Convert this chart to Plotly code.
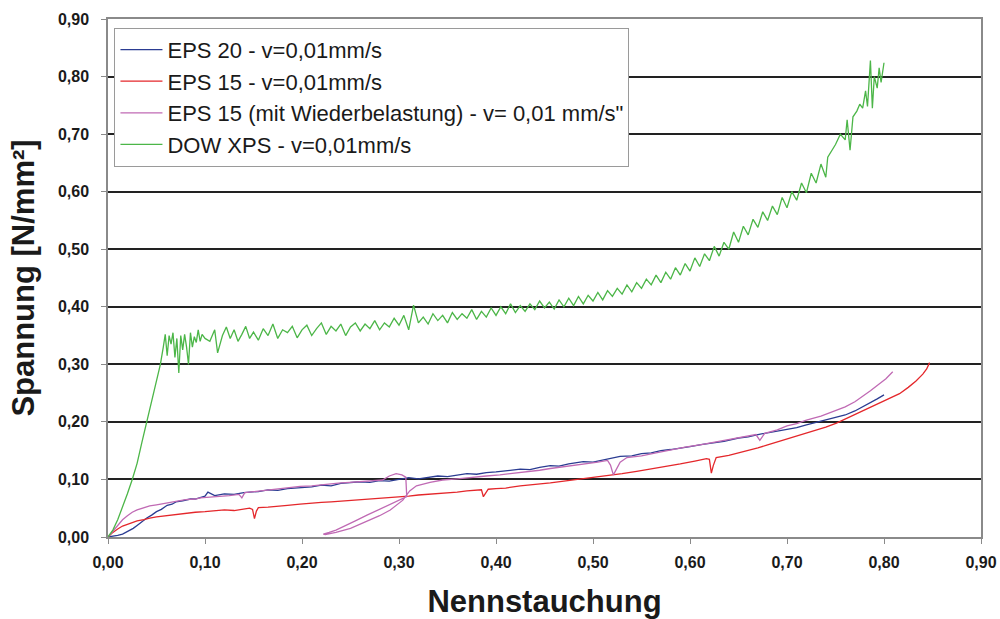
import plotly.graph_objects as go

# ---- data (x = Nennstauchung, y = Spannung [N/mm²]) ----
eps20 = [(0.000, 0.000), (0.005, 0.001), (0.010, 0.003), (0.015, 0.005), (0.020, 0.009), (0.026, 0.015),
         (0.030, 0.020), (0.035, 0.027), (0.040, 0.033), (0.045, 0.038), (0.050, 0.044), (0.055, 0.048),
         (0.061, 0.055), (0.066, 0.057), (0.070, 0.061), (0.077, 0.063), (0.085, 0.066), (0.090, 0.066),
         (0.095, 0.069), (0.100, 0.071), (0.103, 0.078), (0.110, 0.072), (0.120, 0.075), (0.130, 0.074),
         (0.140, 0.077), (0.146, 0.078), (0.155, 0.079), (0.165, 0.082), (0.175, 0.081), (0.185, 0.084),
         (0.198, 0.086), (0.210, 0.087), (0.220, 0.090), (0.230, 0.089), (0.240, 0.093), (0.249, 0.094),
         (0.260, 0.096), (0.270, 0.095), (0.280, 0.098), (0.290, 0.097), (0.301, 0.100), (0.310, 0.103),
         (0.320, 0.101), (0.330, 0.104), (0.340, 0.106), (0.350, 0.105), (0.360, 0.108), (0.370, 0.110),
         (0.380, 0.109), (0.390, 0.112), (0.400, 0.113), (0.410, 0.115), (0.425, 0.118), (0.435, 0.117),
         (0.445, 0.121), (0.456, 0.124), (0.465, 0.123), (0.475, 0.127), (0.490, 0.131), (0.500, 0.130),
         (0.510, 0.134), (0.520, 0.137), (0.528, 0.140), (0.540, 0.141), (0.550, 0.145), (0.560, 0.146),
         (0.570, 0.150), (0.580, 0.152), (0.590, 0.154), (0.600, 0.157), (0.613, 0.161), (0.625, 0.163),
         (0.635, 0.166), (0.650, 0.172), (0.660, 0.174), (0.670, 0.178), (0.680, 0.181), (0.690, 0.184),
         (0.700, 0.188), (0.710, 0.190), (0.720, 0.195), (0.730, 0.199), (0.740, 0.203), (0.751, 0.208),
         (0.760, 0.212), (0.770, 0.219), (0.778, 0.226), (0.786, 0.233), (0.793, 0.240), (0.800, 0.247)]

eps15 = [(0.000, 0.000), (0.005, 0.008), (0.010, 0.014), (0.015, 0.019), (0.020, 0.022), (0.025, 0.025),
         (0.030, 0.028), (0.037, 0.030), (0.043, 0.033), (0.050, 0.035), (0.060, 0.037), (0.070, 0.040),
         (0.080, 0.041), (0.090, 0.043), (0.100, 0.044), (0.110, 0.045), (0.120, 0.047), (0.130, 0.046),
         (0.140, 0.049), (0.146, 0.050), (0.149, 0.048), (0.151, 0.032), (0.153, 0.045), (0.155, 0.051),
         (0.165, 0.052), (0.175, 0.054), (0.185, 0.055), (0.198, 0.057), (0.210, 0.058), (0.220, 0.060),
         (0.230, 0.061), (0.246, 0.063), (0.260, 0.064), (0.270, 0.066), (0.280, 0.067), (0.290, 0.068),
         (0.301, 0.070), (0.310, 0.071), (0.320, 0.073), (0.330, 0.074), (0.340, 0.075), (0.350, 0.077),
         (0.360, 0.078), (0.370, 0.080), (0.380, 0.081), (0.385, 0.082), (0.387, 0.070), (0.389, 0.076),
         (0.392, 0.083), (0.400, 0.084), (0.410, 0.085), (0.425, 0.089), (0.440, 0.091), (0.456, 0.094),
         (0.470, 0.097), (0.480, 0.099), (0.494, 0.102), (0.505, 0.104), (0.515, 0.107), (0.530, 0.110),
         (0.545, 0.114), (0.560, 0.118), (0.575, 0.123), (0.590, 0.127), (0.605, 0.132), (0.617, 0.136),
         (0.620, 0.135), (0.622, 0.111), (0.624, 0.124), (0.627, 0.138), (0.640, 0.142), (0.650, 0.146),
         (0.660, 0.151), (0.670, 0.155), (0.680, 0.160), (0.690, 0.165), (0.700, 0.171), (0.710, 0.176),
         (0.720, 0.181), (0.730, 0.186), (0.740, 0.191), (0.751, 0.198), (0.760, 0.205), (0.770, 0.212),
         (0.778, 0.218), (0.786, 0.225), (0.795, 0.232), (0.805, 0.240), (0.816, 0.249), (0.825, 0.260),
         (0.833, 0.271), (0.840, 0.283), (0.844, 0.292), (0.847, 0.303)]

eps15_reload = [(0.000, 0.000), (0.005, 0.010), (0.010, 0.020), (0.015, 0.030), (0.020, 0.037), (0.025, 0.043),
                (0.030, 0.047), (0.037, 0.051), (0.043, 0.054), (0.050, 0.056), (0.061, 0.060), (0.070, 0.062),
                (0.080, 0.065), (0.090, 0.066), (0.095, 0.068), (0.105, 0.069), (0.115, 0.071), (0.125, 0.072),
                (0.135, 0.074), (0.138, 0.068), (0.141, 0.077), (0.146, 0.078), (0.155, 0.079), (0.165, 0.081),
                (0.175, 0.083), (0.185, 0.085), (0.198, 0.088), (0.210, 0.089), (0.220, 0.091), (0.230, 0.092),
                (0.240, 0.094), (0.249, 0.095), (0.260, 0.096), (0.270, 0.097), (0.283, 0.099), (0.290, 0.106),
                (0.297, 0.110), (0.303, 0.108), (0.307, 0.104), (0.308, 0.070), (0.300, 0.064), (0.291, 0.057),
                (0.280, 0.048), (0.267, 0.038), (0.255, 0.028), (0.245, 0.020), (0.235, 0.012), (0.228, 0.008),
                (0.222, 0.005), (0.224, 0.004), (0.235, 0.008), (0.250, 0.015), (0.267, 0.028), (0.280, 0.037),
                (0.291, 0.047), (0.304, 0.064), (0.311, 0.080), (0.318, 0.089), (0.332, 0.095), (0.345, 0.099),
                (0.360, 0.101), (0.375, 0.104), (0.390, 0.106), (0.404, 0.108), (0.415, 0.110), (0.430, 0.113),
                (0.445, 0.116), (0.456, 0.119), (0.470, 0.122), (0.490, 0.126), (0.505, 0.130), (0.515, 0.133),
                (0.518, 0.125), (0.521, 0.108), (0.524, 0.118), (0.528, 0.130), (0.535, 0.138), (0.550, 0.141),
                (0.565, 0.146), (0.579, 0.151), (0.595, 0.156), (0.613, 0.161), (0.630, 0.166), (0.645, 0.171),
                (0.660, 0.176), (0.668, 0.178), (0.672, 0.168), (0.677, 0.180), (0.690, 0.186), (0.700, 0.193),
                (0.710, 0.197), (0.720, 0.203), (0.735, 0.210), (0.751, 0.220), (0.760, 0.226), (0.770, 0.235),
                (0.778, 0.244), (0.786, 0.254), (0.795, 0.266), (0.802, 0.275), (0.809, 0.287)]

dow_xps = [(0.000, 0.000), (0.005, 0.012), (0.010, 0.030), (0.015, 0.052), (0.020, 0.075), (0.025, 0.100),
           (0.030, 0.128), (0.035, 0.165), (0.040, 0.200), (0.045, 0.235), (0.050, 0.268), (0.054, 0.300),
           (0.057, 0.330), (0.059, 0.352), (0.061, 0.315), (0.063, 0.350), (0.065, 0.335), (0.067, 0.355),
           (0.069, 0.312), (0.071, 0.345), (0.073, 0.285), (0.075, 0.350), (0.077, 0.325), (0.079, 0.352),
           (0.081, 0.330), (0.083, 0.300), (0.085, 0.355), (0.087, 0.330), (0.089, 0.348), (0.091, 0.338),
           (0.093, 0.360), (0.095, 0.340), (0.097, 0.352), (0.100, 0.345), (0.105, 0.340), (0.110, 0.360),
           (0.113, 0.320), (0.118, 0.350), (0.122, 0.365), (0.126, 0.345), (0.130, 0.360), (0.134, 0.340),
           (0.138, 0.352), (0.142, 0.366), (0.146, 0.345), (0.150, 0.356), (0.155, 0.342), (0.160, 0.362),
           (0.165, 0.350), (0.170, 0.370), (0.175, 0.345), (0.180, 0.360), (0.185, 0.355), (0.190, 0.366),
           (0.195, 0.346), (0.200, 0.360), (0.205, 0.368), (0.210, 0.350), (0.215, 0.362), (0.220, 0.372),
           (0.225, 0.352), (0.230, 0.366), (0.235, 0.358), (0.240, 0.370), (0.245, 0.350), (0.250, 0.365),
           (0.255, 0.372), (0.260, 0.358), (0.265, 0.370), (0.270, 0.362), (0.275, 0.376), (0.280, 0.360),
           (0.285, 0.372), (0.290, 0.365), (0.295, 0.380), (0.300, 0.368), (0.305, 0.385), (0.310, 0.360),
           (0.315, 0.403), (0.320, 0.372), (0.325, 0.382), (0.330, 0.370), (0.335, 0.388), (0.340, 0.376),
           (0.345, 0.385), (0.350, 0.372), (0.355, 0.390), (0.360, 0.378), (0.365, 0.388), (0.370, 0.380),
           (0.375, 0.395), (0.380, 0.378), (0.385, 0.392), (0.390, 0.382), (0.395, 0.398), (0.400, 0.385),
           (0.405, 0.400), (0.410, 0.388), (0.415, 0.405), (0.420, 0.390), (0.425, 0.402), (0.430, 0.392),
           (0.435, 0.405), (0.440, 0.395), (0.445, 0.410), (0.450, 0.398), (0.455, 0.408), (0.460, 0.396),
           (0.465, 0.412), (0.470, 0.400), (0.475, 0.415), (0.480, 0.402), (0.485, 0.418), (0.490, 0.405),
           (0.495, 0.420), (0.500, 0.410), (0.505, 0.425), (0.510, 0.412), (0.515, 0.428), (0.520, 0.418),
           (0.525, 0.432), (0.530, 0.422), (0.535, 0.438), (0.540, 0.426), (0.545, 0.442), (0.550, 0.432),
           (0.555, 0.448), (0.560, 0.438), (0.565, 0.455), (0.570, 0.442), (0.575, 0.460), (0.580, 0.448),
           (0.585, 0.468), (0.590, 0.455), (0.595, 0.475), (0.600, 0.462), (0.605, 0.485), (0.610, 0.470),
           (0.615, 0.492), (0.620, 0.480), (0.625, 0.505), (0.630, 0.488), (0.635, 0.512), (0.640, 0.500),
           (0.645, 0.530), (0.650, 0.512), (0.655, 0.540), (0.660, 0.525), (0.665, 0.552), (0.670, 0.538),
           (0.675, 0.565), (0.680, 0.550), (0.685, 0.575), (0.690, 0.560), (0.695, 0.590), (0.700, 0.572),
           (0.705, 0.600), (0.710, 0.585), (0.715, 0.615), (0.720, 0.598), (0.725, 0.632), (0.730, 0.615),
           (0.735, 0.648), (0.740, 0.625), (0.742, 0.660), (0.745, 0.668), (0.750, 0.682), (0.755, 0.700),
           (0.760, 0.690), (0.762, 0.725), (0.765, 0.672), (0.768, 0.730), (0.772, 0.740), (0.775, 0.752),
           (0.778, 0.745), (0.781, 0.775), (0.783, 0.748), (0.786, 0.828), (0.788, 0.745), (0.790, 0.800),
           (0.793, 0.780), (0.795, 0.815), (0.797, 0.790), (0.800, 0.824)]

series_names = ["EPS 20 - v=0,01mm/s", "EPS 15 - v=0,01mm/s",
                "EPS 15 (mit Wiederbelastung) - v= 0,01 mm/s\"", "DOW XPS - v=0,01mm/s"]
series_data = [eps20, eps15, eps15_reload, dow_xps]
series_colors = ["#2B3C92", "#E4272B", "#C06AB4", "#4CB648"]

FONT = "Liberation Sans, Arial, sans-serif"

fig = go.Figure()
for name, data, color in zip(series_names, series_data, series_colors):
    fig.add_trace(go.Scatter(
        x=[p[0] for p in data], y=[p[1] for p in data], mode="lines", name=name,
        line=dict(color=color, width=1.3)))

axis_common = dict(
    range=[0, 0.9], tick0=0, dtick=0.1, tickformat=".2f",
    ticks="outside", ticklen=5, tickcolor="#8a8a8a", tickwidth=1,
    showline=True, linecolor="#8a8a8a", linewidth=1.5, mirror=True,
    zeroline=False, automargin=False,
    tickfont=dict(family=FONT, size=16, color="#1a1a1a", weight="bold"),
)

fig.update_layout(
    width=1000, height=619,
    margin=dict(l=108, r=19, t=19, b=82),
    paper_bgcolor="white", plot_bgcolor="white",
    separators=",.",
    font=dict(family=FONT, color="#1a1a1a"),
    xaxis=dict(**axis_common, showgrid=False, ticklabelstandoff=5,
               title=dict(text="Nennstauchung", standoff=22,
                          font=dict(family=FONT, size=31, color="#1a1a1a", weight="bold"))),
    yaxis=dict(**axis_common, showgrid=True, gridcolor="#222222", gridwidth=1.5, ticklabelstandoff=9,
               title=dict(text="Spannung [N/mm²]", standoff=14,
                          font=dict(family=FONT, size=31, color="#1a1a1a", weight="bold"))),
    legend=dict(x=0.0074, y=0.983, xanchor="left", yanchor="top",
                bgcolor="white", bordercolor="#9a9a9a", borderwidth=1, itemwidth=42,
                font=dict(family=FONT, size=22, color="#1a1a1a"), tracegroupgap=0),
    showlegend=True,
)

fig.write_html("out.html")
